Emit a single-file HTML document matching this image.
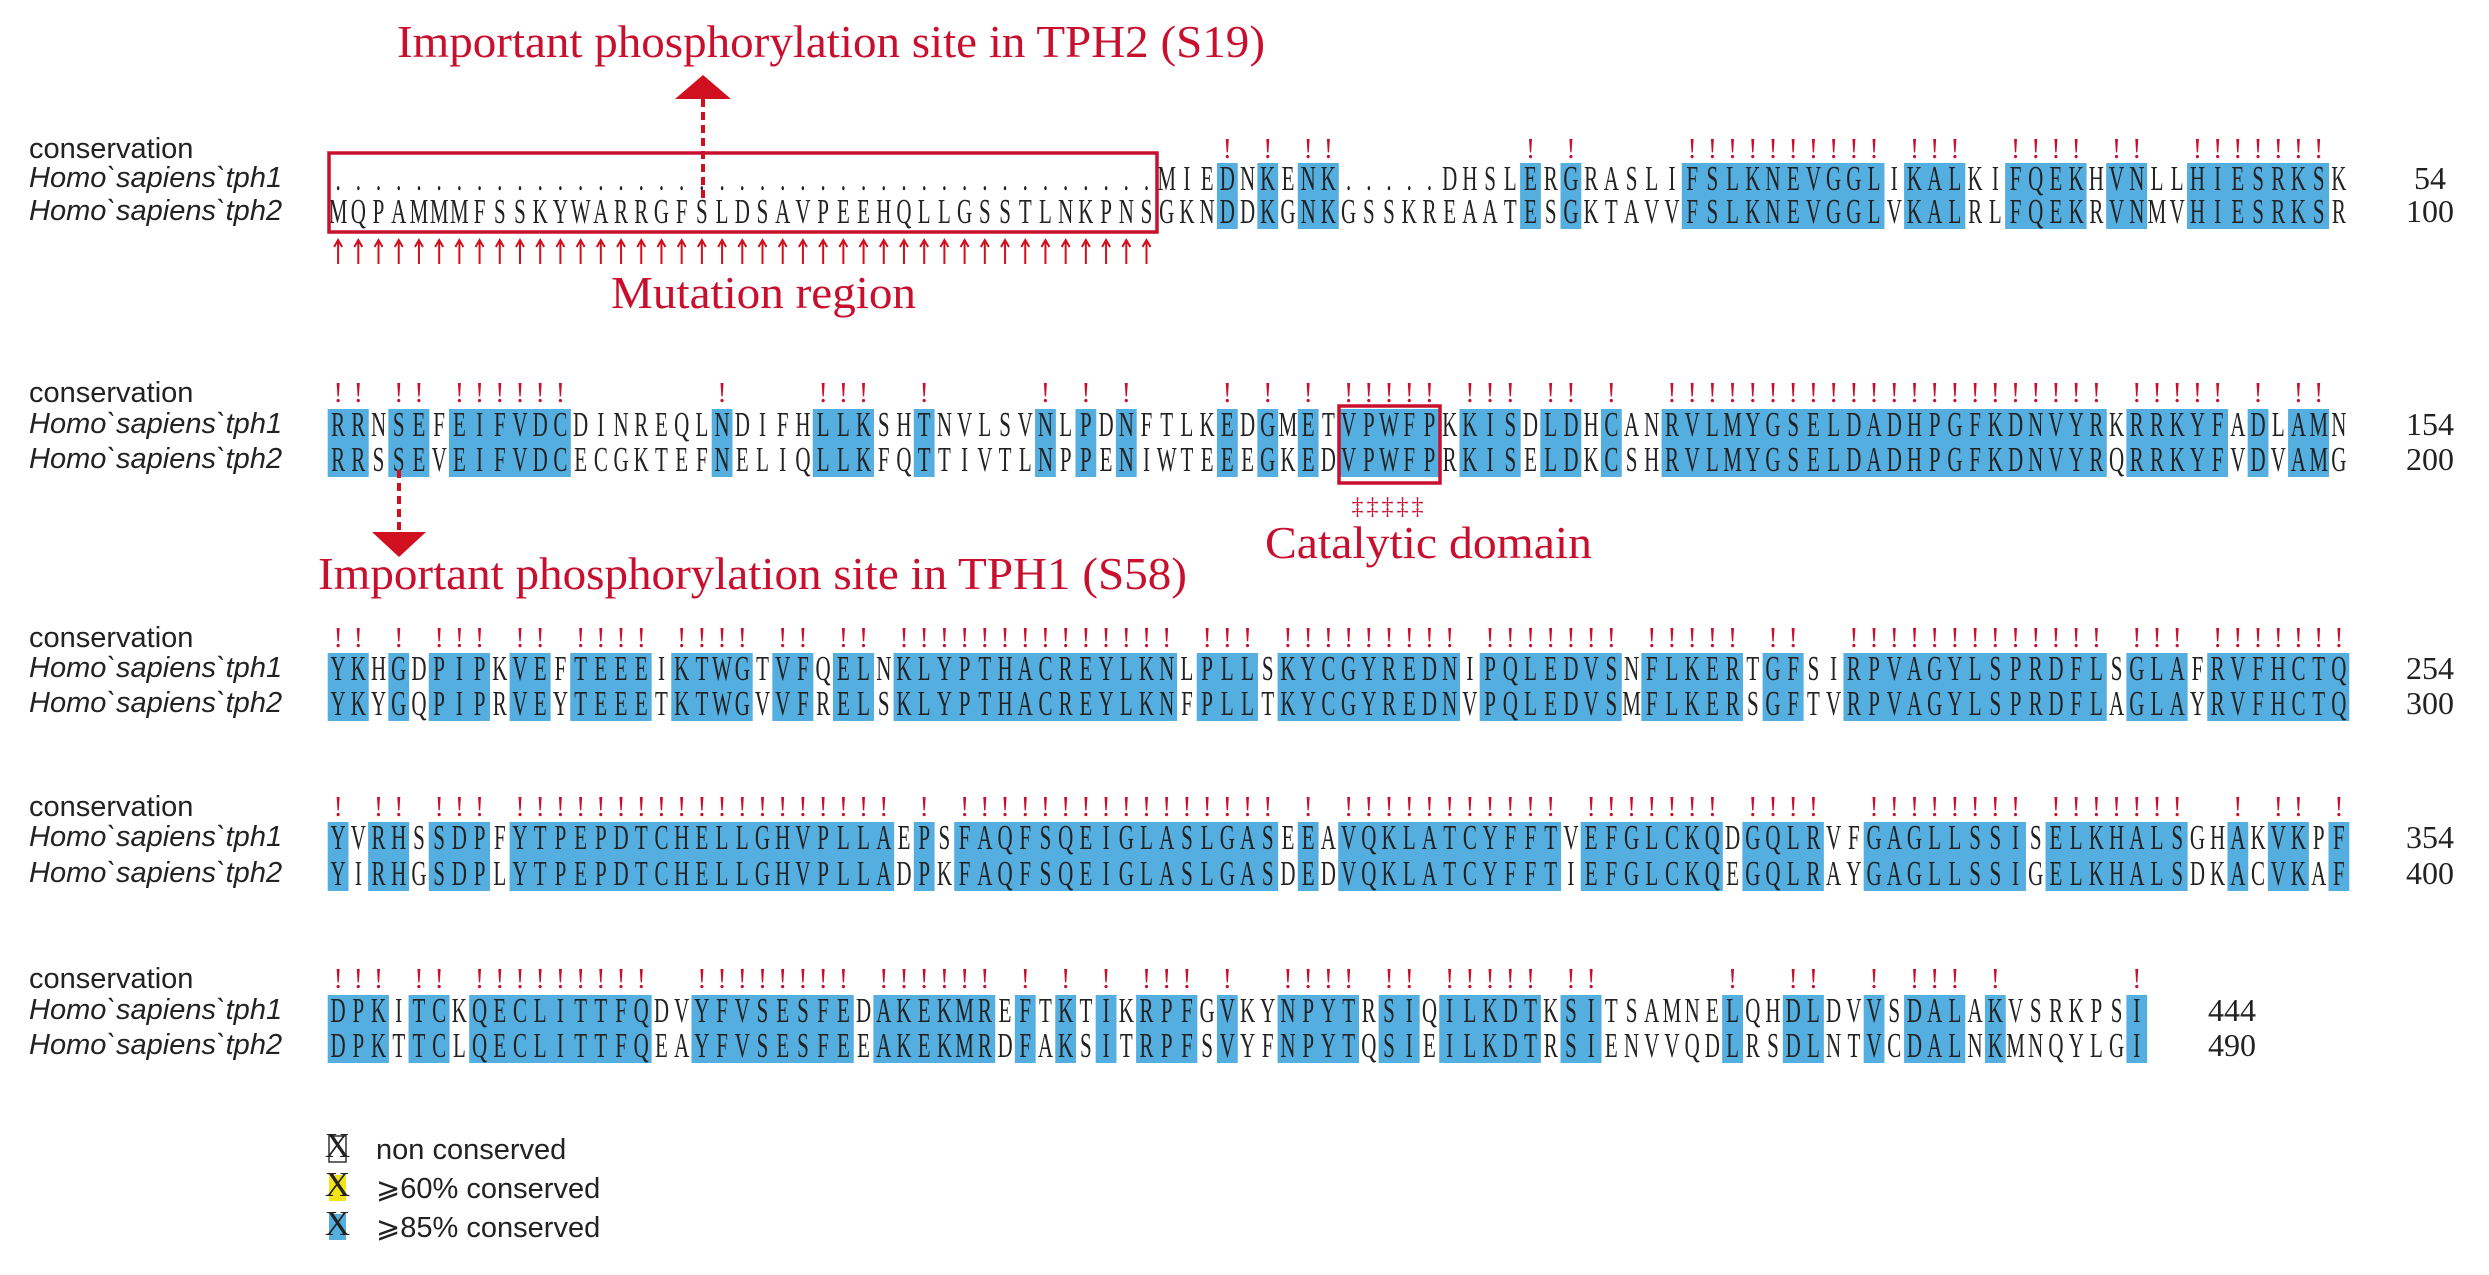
<!DOCTYPE html>
<html><head><meta charset="utf-8"><style>
body{margin:0;background:#fff}
svg{display:block}
.seq{font-family:"Liberation Serif",serif;font-size:35px;fill:#222}
.cons{font-family:"Liberation Serif",serif;font-size:28px;fill:#c8102e}
.lab{font-family:"Liberation Sans",sans-serif;font-size:29px;fill:#222}
.ann{font-family:"Liberation Serif",serif;font-size:46px;fill:#c8102e}
.num{font-family:"Liberation Serif",serif;font-size:32px;fill:#222}
</style></head><body>
<svg id="fig" width="2489" height="1275" viewBox="0 0 2489 1275" xmlns="http://www.w3.org/2000/svg">
<g id="hl"></g>
<g id="txt"></g>
<g id="ann">
  <text class="ann" x="397" y="57" textLength="868" lengthAdjust="spacingAndGlyphs">Important phosphorylation site in TPH2 (S19)</text>
  <polygon points="703,75 675,99 731,99" fill="#d0101e"/>
  <line x1="703" y1="99" x2="703" y2="200" stroke="#d0101e" stroke-width="4" stroke-dasharray="8,5"/>
  <rect x="329" y="153" width="828" height="79" fill="none" stroke="#c8102e" stroke-width="3.5"/>
  <g id="uparrows"></g>
  <text class="ann" x="611" y="308" textLength="305" lengthAdjust="spacingAndGlyphs">Mutation region</text>
  <line x1="399" y1="470" x2="399" y2="534" stroke="#d0101e" stroke-width="4" stroke-dasharray="8,5"/>
  <polygon points="372,532 426,532 399,557" fill="#d0101e"/>
  <text class="ann" x="318" y="589" textLength="869" lengthAdjust="spacingAndGlyphs">Important phosphorylation site in TPH1 (S58)</text>
  <rect x="1339" y="406" width="101" height="77" fill="none" stroke="#c8102e" stroke-width="3.5"/>
  <text x="1389" y="514" text-anchor="middle" font-family="Liberation Serif,serif" font-size="24" fill="#c8102e" letter-spacing="3">‡‡‡‡‡</text>
  <text class="ann" x="1265" y="558" textLength="327" lengthAdjust="spacingAndGlyphs">Catalytic domain</text>
</g>
<g id="legend">
  <rect x="329" y="1136" width="17" height="26" fill="#fff" stroke="#333" stroke-width="1.5"/>
  <text x="337.5" y="1157" text-anchor="middle" class="seq" font-size="24">X</text>
  <text class="lab" x="376" y="1159">non  conserved</text>
  <rect x="329" y="1175" width="17" height="26" fill="#f5e31a"/>
  <text x="337.5" y="1196" text-anchor="middle" class="seq" font-size="24">X</text>
  <text class="lab" x="376" y="1198">⩾60% conserved</text>
  <rect x="329" y="1214" width="17" height="26" fill="#55aee0"/>
  <text x="337.5" y="1235" text-anchor="middle" class="seq" font-size="24">X</text>
  <text class="lab" x="376" y="1237">⩾85% conserved</text>
</g>
</svg>
<script>
const tph1Rows = [
 ".".repeat(41) + "MIEDNKENK" + "....." + "DHSLERGRASLIFSLKNEVGGLIKALKIFQEKHVNLLHIESRKSK",
 "RRNSEFEIFVDCDINREQLNDIFHLLKSHTNVLSVNLPDNFTLKEDGMETVPWFPKKISDLDHCANRVLMYGSELDADHPGFKDNVYRKRRKYFADLAMN",
 "YKHGDPIPKVEFTEEEIKTWGTVFQELNKLYPTHACREYLKNLPLLSKYCGYREDNIPQLEDVSNFLKERTGFSIRPVAGYLSPRDFLSGLAFRVFHCTQ",
 "YVRHSSDPFYTPEPDTCHELLGHVPLLAEPSFAQFSQEIGLASLGASEEAVQKLATCYFFTVEFGLCKQDGQLRVFGAGLLSSISELKHALSGHAKVKPF",
 "DPKITCKQECLITTFQDVYFVSESFEDAKEKMREFTKTIKRPFGVKYNPYTRSIQILKDTKSITSAMNELQHDLDVVSDALAKVSRKPSI"
];
const tph2Rows = [
 "MQPAMMMFSSKYWARRGFSLDSAVPEEHQLLGSSTLNKPNS" + "GKNDDKGNK" + "GSSKREAATESGKTAVVFSLKNEVGGLVKALRLFQEKRVNMVHIESRKSR",
 "RRSSEVEIFVDCECGKTEFNELIQLLKFQTTIVTLNPPENIWTEEEGKEDVPWFPRKISELDKCSHRVLMYGSELDADHPGFKDNVYRQRRKYFVDVAMG",
 "YKYGQPIPRVEYTEEETKTWGVVFRELSKLYPTHACREYLKNFPLLTKYCGYREDNVPQLEDVSMFLKERSGFTVRPVAGYLSPRDFLAGLAYRVFHCTQ",
 "YIRHGSDPLYTPEPDTCHELLGHVPLLADPKFAQFSQEIGLASLGASDEDVQKLATCYFFTIEFGLCKQEGQLRAYGAGLLSSIGELKHALSDKACVKAF",
 "DPKTTCLQECLITTFQEAYFVSESFEEAKEKMRDFAKSITRPFSVYFNPYTQSIEILKDTRSIENVVQDLRSDLNTVCDALNKMNQYLGI"
];
const tph1Ends = [54,154,254,354,444];
const tph2Ends = [100,200,300,400,490];
const specialS = [[0,2,18,"#d06a8a"],[1,1,3,"#8a4a9a"],[1,2,3,"#8a4a9a"]];

const X0=328, CW=20.21;
const consY=[148,392,637,806,978], y1=[178,424,668,837,1010], y2=[211,459,703,873,1045];
const NS="http://www.w3.org/2000/svg";
const hl=document.getElementById('hl'), txt=document.getElementById('txt');
function mk(tag,attrs,parent){const e=document.createElementNS(NS,tag);for(const k in attrs)e.setAttribute(k,attrs[k]);parent.appendChild(e);return e;}

for(let b=0;b<5;b++){
  const lab=mk('text',{class:'lab',x:29,y:consY[b]+10},txt);lab.textContent='conservation';
  
  
  const l1=mk('text',{class:'lab',x:29,y:y1[b]+9,'font-style':'italic','font-size':27},txt);l1.textContent='Homo`sapiens`tph1';
  
  
  const l2=mk('text',{class:'lab',x:29,y:y2[b]+9,'font-style':'italic','font-size':27},txt);l2.textContent='Homo`sapiens`tph2';
  
  
  const s1=tph1Rows[b], s2=tph2Rows[b];
  for(let i=0;i<s1.length;i++){
    const cx=X0+(i+0.5)*CW;
    const c1=s1[i], c2=s2[i];
    if(c1===c2 && c1!=='.'){
      const r=mk('rect',{x:X0+i*CW-0.3,y:y1[b]-15,width:CW+0.6,height:(y2[b]-y1[b])+33,fill:'#55aee0'},hl);
      
      
      const c=mk('text',{class:'cons',x:cx,y:consY[b]+10,'text-anchor':'middle'},txt);c.textContent='!';
      
      
    }
    [[c1,y1[b],1],[c2,y2[b],2]].forEach(([ch,yy,r])=>{
      let col='#222';
      specialS.forEach(s=>{if(s[0]===b&&s[1]===r&&s[2]===i)col=s[3];});
      const t=mk('text',{class:'seq',transform:`translate(${cx},${yy+12}) scale(0.6,1)`,'text-anchor':'middle',fill:col},txt);
      t.textContent=ch;
      
      
    });
  }
  const nx = s1.length<100 ? 2232 : 2430;
  const n1=mk('text',{class:'num',x:nx,y:y1[b]+11,'text-anchor':'middle'},txt);n1.textContent=tph1Ends[b];
  
  
  const n2=mk('text',{class:'num',x:nx,y:y2[b]+11,'text-anchor':'middle'},txt);n2.textContent=tph2Ends[b];
  
  
}
const ua=document.getElementById('uparrows');
for(let i=0;i<41;i++){
  const cx=X0+(i+0.5)*CW;
  const a=mk('path',{d:`M${cx},240 L${cx},264 M${cx-4},247 L${cx},240 L${cx+4},247`,stroke:'#d0101e','stroke-width':2,fill:'none'},ua);
  
  
}
</script>
</body></html>
